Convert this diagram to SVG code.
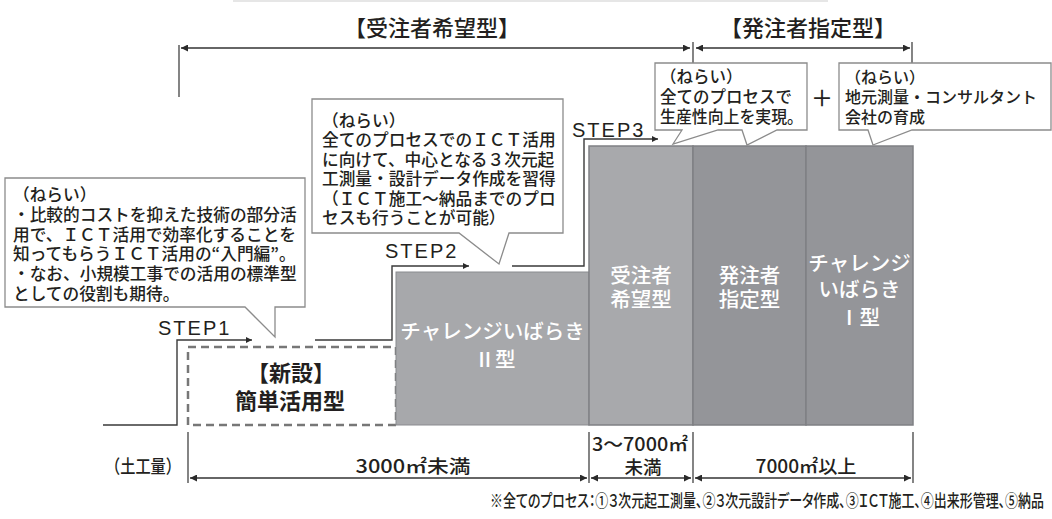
<svg xmlns="http://www.w3.org/2000/svg" width="1052" height="519" viewBox="0 0 1052 519">
<style>
.jp{font-family:"Noto Sans CJK JP","Noto Sans",sans-serif;fill:#231f20;font-weight:500}
.cl{font-size:16.7px}
.blk{fill:#ffffff;font-size:20.5px;text-anchor:middle}
.step{font-family:"Liberation Sans",Arial,sans-serif;font-size:20px;letter-spacing:2px;fill:#231f20}
.callout{fill:#ffffff;stroke:#8c8c8c;stroke-width:1.3}
.stepline{fill:none;stroke:#3a3a3a;stroke-width:1.4}
.dim{fill:none;stroke:#333;stroke-width:1.6}
.tick{stroke:#333;stroke-width:1.2}
.ax{font-size:18.5px;text-anchor:middle}
.palt{font-feature-settings:"palt"}
</style>
<defs>
<marker id="ah" viewBox="0 0 10 10" refX="10" refY="5" markerWidth="9" markerHeight="7" markerUnits="userSpaceOnUse" orient="auto-start-reverse"><path d="M0,0 L10,5 L0,10 z" fill="#2a2a2a"/></marker>
<marker id="as" viewBox="0 0 10 10" refX="10" refY="5" markerWidth="8" markerHeight="6" markerUnits="userSpaceOnUse" orient="auto"><path d="M0,0 L10,5 L0,10 z" fill="#2a2a2a"/></marker>
</defs>
<rect width="1052" height="519" fill="#ffffff"/>
<line x1="233" y1="1" x2="828" y2="1" stroke="#e6e6e6" stroke-width="2"/>

<!-- top labels -->
<text class="jp" x="432" y="36" font-size="22" text-anchor="middle">【受注者希望型】</text>
<text class="jp" x="808" y="36" font-size="22" text-anchor="middle">【発注者指定型】</text>

<g id="connectors">
  <!-- top brackets -->
  <line class="tick" x1="179" y1="45" x2="179" y2="97"/>
  <line class="tick" x1="693" y1="42" x2="693" y2="63"/>
  <line class="tick" x1="912" y1="42" x2="912" y2="63"/>
  <line class="dim" x1="181" y1="48" x2="690" y2="48" marker-start="url(#ah)" marker-end="url(#ah)"/>
  <line class="dim" x1="696" y1="48" x2="910" y2="48" marker-start="url(#ah)" marker-end="url(#ah)"/>
  <!-- staircase step lines -->
  <path class="stepline" d="M103,425 H177 V340 H252" marker-end="url(#as)"/>
  <path class="stepline" d="M315,340 H392 V266 H469" marker-end="url(#as)"/>
  <path class="stepline" d="M512,266 H584 V139 H658" marker-end="url(#as)"/>
  <!-- bottom dimension -->
  <line class="tick" x1="188" y1="432" x2="188" y2="483"/>
  <line class="tick" x1="589" y1="432" x2="589" y2="483"/>
  <line class="tick" x1="693" y1="432" x2="693" y2="483"/>
  <line class="tick" x1="913" y1="432" x2="913" y2="483"/>
  <line class="dim" x1="190" y1="478" x2="587" y2="478" marker-start="url(#ah)" marker-end="url(#ah)"/>
  <line class="dim" x1="591" y1="478" x2="691" y2="478" marker-start="url(#ah)" marker-end="url(#ah)"/>
  <line class="dim" x1="695" y1="478" x2="911" y2="478" marker-start="url(#ah)" marker-end="url(#ah)"/>
</g>

<g id="block-kantan">
  <rect x="188" y="347" width="208" height="78" fill="#ffffff" stroke="#777" stroke-width="2.5" stroke-dasharray="8,5"/>
  <text class="jp" x="291" y="381" font-size="22" text-anchor="middle" style="font-weight:bold">【新設】</text>
  <text class="jp" x="290" y="409" font-size="22" text-anchor="middle" style="font-weight:bold">簡単活用型</text>
</g>

<g id="block-challenge2">
  <rect x="396" y="272" width="193" height="153" fill="#a7a8ab" stroke="#8a8b8f" stroke-width="1"/>
  <text class="jp blk" x="492.5" y="338.5">チャレンジいばらき</text>
  <text class="jp blk" x="495" y="366.5">Ⅱ型</text>
</g>

<g id="block-juchu">
  <rect x="589" y="146" width="104" height="279" fill="#a8a9ac" stroke="#7f8084" stroke-width="1.5"/>
  <text class="jp blk" x="641" y="282.5">受注者</text>
  <text class="jp blk" x="641" y="306.5">希望型</text>
</g>

<g id="block-hatchu">
  <rect x="693" y="146" width="113" height="279" fill="#949599" stroke="#7f8084" stroke-width="1.5"/>
  <text class="jp blk" x="749.5" y="282.5">発注者</text>
  <text class="jp blk" x="749.5" y="306.5">指定型</text>
</g>

<g id="block-challenge1">
  <rect x="806" y="146" width="107" height="279" fill="#949599" stroke="#7f8084" stroke-width="1.5"/>
  <text class="jp blk" x="859.5" y="270.5">チャレンジ</text>
  <text class="jp blk" x="859.5" y="296.5">いばらき</text>
  <text class="jp blk" x="859.5" y="324.5">Ⅰ型</text>
</g>

<g id="step-labels">
  <text class="step" x="158" y="335">STEP1</text>
  <text class="step" x="385" y="258">STEP2</text>
  <text class="step" x="572" y="137">STEP3</text>
</g>

<g id="callout-step1">
  <path class="callout" d="M5,178 H305 V307 H275 V337 L245,307 H5 Z"/>
  <text class="jp cl" x="13" y="201">（ねらい）</text>
  <text class="jp cl" x="13" y="221">・比較的コストを抑えた技術の部分活</text>
  <text class="jp cl" x="13" y="241">用で、ＩＣＴ活用で効率化することを</text>
  <text class="jp cl" x="13" y="260">知ってもらうＩＣＴ活用の“入門編”。</text>
  <text class="jp cl" x="13" y="280">・なお、小規模工事での活用の標準型</text>
  <text class="jp cl" x="13" y="300">としての役割も期待。</text>
</g>

<g id="callout-step2">
  <path class="callout" d="M312,99 H563 V233 H509 L499,264 L459,233 H312 Z"/>
  <text class="jp cl" x="322" y="126.5">（ねらい）</text>
  <text class="jp cl" x="322" y="146">全てのプロセスでのＩＣＴ活用</text>
  <text class="jp cl" x="322" y="165.5">に向けて、中心となる３次元起</text>
  <text class="jp cl" x="322" y="185">工測量・設計データ作成を習得</text>
  <text class="jp cl" x="322" y="204.5">（ＩＣＴ施工～納品までのプロ</text>
  <text class="jp cl" x="322" y="224">セスも行うことが可能）</text>
</g>

<g id="callout-step3">
  <path class="callout" d="M655,63 H807 V130 H777 L747,145 L742,130 H718 L673,144 L682,130 H655 Z"/>
  <text class="jp" x="660" y="83" font-size="16.5">（ねらい）</text>
  <text class="jp" x="660" y="103" font-size="16.5">全てのプロセスで</text>
  <text class="jp" x="660" y="123" font-size="16.5" textLength="143" lengthAdjust="spacingAndGlyphs">生産性向上を実現。</text>
</g>

<text class="jp" x="822" y="106" font-size="22" text-anchor="middle">＋</text>

<g id="callout-local">
  <path class="callout" d="M839,63 H1051 V130 H912 L873,145 L868,130 H839 Z"/>
  <text class="jp" x="845" y="83" font-size="16">（ねらい）</text>
  <text class="jp" x="845" y="103" font-size="16">地元測量・コンサルタント</text>
  <text class="jp" x="845" y="123" font-size="16">会社の育成</text>
</g>

<g id="axis-labels">
  <text class="jp ax" x="143" y="473" textLength="76" lengthAdjust="spacingAndGlyphs">（土工量）</text>
  <text class="jp ax" x="413" y="473" textLength="115" lengthAdjust="spacingAndGlyphs">3000㎡未満</text>
  <text class="jp ax" x="640" y="451" textLength="96" lengthAdjust="spacingAndGlyphs">3～7000㎡</text>
  <text class="jp ax" x="643" y="474">未満</text>
  <text class="jp ax" x="806" y="473" textLength="101" lengthAdjust="spacingAndGlyphs">7000㎡以上</text>
</g>

<text class="jp palt" x="490" y="507" font-size="17.5" textLength="554" lengthAdjust="spacingAndGlyphs">※全てのプロセス：①３次元起工測量、②３次元設計データ作成、③ＩＣＴ施工、④出来形管理、⑤納品</text>
</svg>
